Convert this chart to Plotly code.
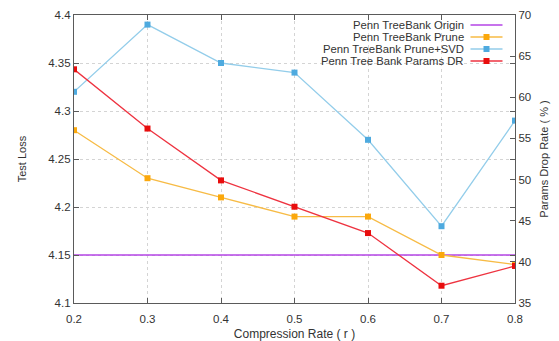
import plotly.graph_objects as go

# Compression rates on the x axis
rates = [0.2, 0.3, 0.4, 0.5, 0.6, 0.7, 0.8]

# Test loss (left axis)
origin_loss = [4.15, 4.15, 4.15, 4.15, 4.15, 4.15, 4.15]
prune_loss = [4.28, 4.23, 4.21, 4.19, 4.19, 4.15, 4.14]
prune_svd_loss = [4.32, 4.39, 4.35, 4.34, 4.27, 4.18, 4.29]

# Parameter drop rate in % (right axis)
params_dr = [63.4, 56.2, 49.9, 46.7, 43.5, 37.1, 39.5]

left_ticks = [4.1, 4.15, 4.2, 4.25, 4.3, 4.35, 4.4]
left_tick_text = ["4.1", "4.15", "4.2", "4.25", "4.3", "4.35", "4.4"]
right_ticks = [35, 40, 45, 50, 55, 60, 65, 70]
x_ticks = [0.2, 0.3, 0.4, 0.5, 0.6, 0.7, 0.8]

PURPLE = "#b445e6"
ORANGE_LINE = "#f7bb45"
ORANGE_MARK = "#fba80c"
BLUE_LINE = "#93cdea"
BLUE_MARK = "#4eaadf"
RED_LINE = "#ee3340"
RED_MARK = "#e80d0d"

FONT = "Liberation Sans, Arial, sans-serif"
AXIS_COLOR = "#5a5a5a"
TEXT_COLOR = "#333333"

W, H = 559, 341
ML, MR, MT, MB = 74, 44, 15, 38
PW, PH = W - ML - MR, H - MT - MB

fig = go.Figure()

fig.add_trace(go.Scatter(x=rates, y=origin_loss, mode="lines",
                         line=dict(color=PURPLE, width=1.3),
                         name="Penn TreeBank Origin", yaxis="y"))
fig.add_trace(go.Scatter(x=rates, y=prune_loss, mode="lines+markers",
                         line=dict(color=ORANGE_LINE, width=1.3),
                         marker=dict(symbol="square", size=6, color=ORANGE_MARK),
                         name="Penn TreeBank Prune", yaxis="y"))
fig.add_trace(go.Scatter(x=rates, y=prune_svd_loss, mode="lines+markers",
                         line=dict(color=BLUE_LINE, width=1.3),
                         marker=dict(symbol="square", size=6, color=BLUE_MARK),
                         name="Penn TreeBank Prune+SVD", yaxis="y"))
fig.add_trace(go.Scatter(x=rates, y=params_dr, mode="lines+markers",
                         line=dict(color=RED_LINE, width=1.3),
                         marker=dict(symbol="square", size=6, color=RED_MARK),
                         name="Penn Tree Bank Params DR", yaxis="y2"))


def px_to_paper_x(px):
    return (px - ML) / PW


def px_to_paper_y(py):
    return (MT + PH - py) / PH


# Key box in the upper right: right-aligned labels with line samples after them
legend_rows = [
    ("Penn TreeBank Origin", PURPLE, PURPLE, False, 25),
    ("Penn TreeBank Prune", ORANGE_LINE, ORANGE_MARK, True, 37),
    ("Penn TreeBank Prune+SVD", BLUE_LINE, BLUE_MARK, True, 49),
    ("Penn Tree Bank Params DR", RED_LINE, RED_MARK, True, 61),
]
annotations = []
shapes = []
for label, lcol, mcol, has_marker, py in legend_rows:
    yp = px_to_paper_y(py)
    annotations.append(dict(x=px_to_paper_x(465), y=yp, xref="paper", yref="paper",
                            text=label, showarrow=False, xanchor="right", yanchor="middle",
                            borderpad=0,
                            font=dict(family=FONT, size=11.3, color=TEXT_COLOR)))
    shapes.append(dict(type="line", xref="paper", yref="paper",
                       x0=px_to_paper_x(470.5), x1=px_to_paper_x(502.5), y0=yp, y1=yp,
                       line=dict(color=lcol, width=1.3)))
    if has_marker:
        shapes.append(dict(type="rect", xref="paper", yref="paper",
                           xsizemode="pixel", ysizemode="pixel",
                           xanchor=px_to_paper_x(486.5), yanchor=yp,
                           x0=-3, x1=3, y0=-3, y1=3,
                           line=dict(width=0), fillcolor=mcol))

fig.update_layout(
    width=W, height=H,
    margin=dict(l=ML, r=MR, t=MT, b=MB, pad=0, autoexpand=False),
    paper_bgcolor="white", plot_bgcolor="white",
    showlegend=False,
    font=dict(family=FONT, size=11, color=TEXT_COLOR),
    xaxis=dict(
        range=[0.2, 0.8], tickvals=x_ticks, ticktext=[f"{v:.1f}" for v in x_ticks],
        showline=True, linecolor=AXIS_COLOR, linewidth=1.3, mirror="ticks",
        ticks="inside", ticklen=5, tickcolor=AXIS_COLOR, tickwidth=1,
        ticklabelstandoff=5, automargin=False,
        showgrid=True, gridcolor="#d4d4d4", griddash="dot", gridwidth=1,
        zeroline=False,
        title=dict(text="Compression Rate ( r )", standoff=7,
                   font=dict(family=FONT, size=12, color=TEXT_COLOR)),
        tickfont=dict(family=FONT, size=11.5, color=TEXT_COLOR),
    ),
    yaxis=dict(
        range=[4.1, 4.4], tickvals=left_ticks, ticktext=left_tick_text,
        showline=True, linecolor=AXIS_COLOR, linewidth=1.3, mirror="ticks",
        ticks="inside", ticklen=5, tickcolor=AXIS_COLOR, tickwidth=1,
        automargin=False,
        showgrid=True, gridcolor="#d4d4d4", griddash="dot", gridwidth=1,
        zeroline=False,
        title=dict(text="Test Loss", standoff=19,
                   font=dict(family=FONT, size=11, color=TEXT_COLOR)),
        tickfont=dict(family=FONT, size=11.5, color=TEXT_COLOR),
    ),
    yaxis2=dict(
        range=[35, 70], tickvals=right_ticks,
        overlaying="y", side="right", anchor="x",
        showline=True, linecolor=AXIS_COLOR, linewidth=1.3,
        ticks="inside", ticklen=5, tickcolor=AXIS_COLOR, tickwidth=1,
        automargin=False,
        showgrid=False, zeroline=False,
        title=dict(text="Params Drop Rate ( % )", standoff=10,
                   font=dict(family=FONT, size=11, color=TEXT_COLOR)),
        tickfont=dict(family=FONT, size=11.5, color=TEXT_COLOR),
    ),
    annotations=annotations,
    shapes=shapes,
)

fig.write_html("out.html")
